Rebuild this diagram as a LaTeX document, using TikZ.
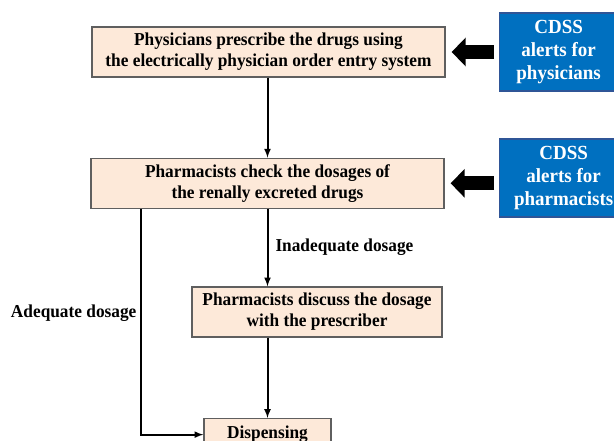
\documentclass[tikz,border=0pt]{standalone}
\usepackage{fontspec}
\setmainfont{Liberation Serif}[FakeStretch=0.95]
\usetikzlibrary{positioning}
\usetikzlibrary{arrows.meta}
\definecolor{box-fill}{HTML}{FDE9D9}
\definecolor{box-line}{HTML}{5F5F5F}
\definecolor{cdss-blue}{HTML}{0070C0}
\definecolor{cdss-line}{HTML}{2F5597}

\begin{document}
\begin{tikzpicture}[x=1pt, y=-1pt,
  process/.style={draw=box-line, fill=box-fill, line width=1.3pt, align=center, inner sep=0pt, minimum height=50pt, font=\bfseries\fontsize{18.2}{21}\selectfont},
  alert/.style={draw=cdss-line, fill=cdss-blue, line width=1.3pt, text=white, align=center, inner sep=0pt, minimum height=78pt, anchor=west, font=\bfseries\fontsize{20}{23}\selectfont},
  cue/.style={inner sep=0pt, font=\bfseries\fontsize{18.2}{21}\selectfont},
  flow/.style={line width=2pt, -latex},
  push/.style={line width=14pt, -{Triangle[width=28pt, length=14pt]}, shorten <=5pt, shorten >=6pt}
]
\useasboundingbox (0,0) rectangle (614,441);
\clip (0,0) rectangle (614,441);

% Prescription
\node[process, minimum width=353pt] (prescribe) at (268.5, 52) {%
Physicians prescribe the drugs using\\the electrically physician order entry system};

% Dosage check
\node[process, minimum width=353pt, below=80pt of prescribe, xshift=-1pt] (check) {%
Pharmacists check the dosages of\\the renally excreted drugs};

% Discussion
\node[process, minimum width=250pt] (discuss) at (317, 312) {%
Pharmacists discuss the dosage\\with the prescriber};

% Dispensing
\node[process, minimum width=127pt, minimum height=32pt, anchor=north] (dispense) at (267.5, 418) {Dispensing};

% CDSS alerts
\node[alert, minimum width=118pt] (cdssdoc) at (499, 52) {CDSS\\alerts for\\physicians};
\node[alert, minimum width=128pt] (cdsspharm) at (499, 178) {CDSS\\alerts for\\pharmacists};

% Edges
\draw[flow] (prescribe.south -| check) to (check);
\draw[flow] (check.south) to node[cue, midway, right=7pt]{Inadequate dosage} (check.south |- discuss.north);
\draw[flow] (discuss.south -| dispense) to (dispense);
\draw[flow] ([xshift=51pt]check.south west) |- node[cue, pos=0.23, left=4pt]{Adequate dosage} (dispense.west);
\draw[push] (cdssdoc.west) to (prescribe.east);
\draw[push] (check.east -| cdsspharm.west) to (check.east);
\end{tikzpicture}
\end{document}
